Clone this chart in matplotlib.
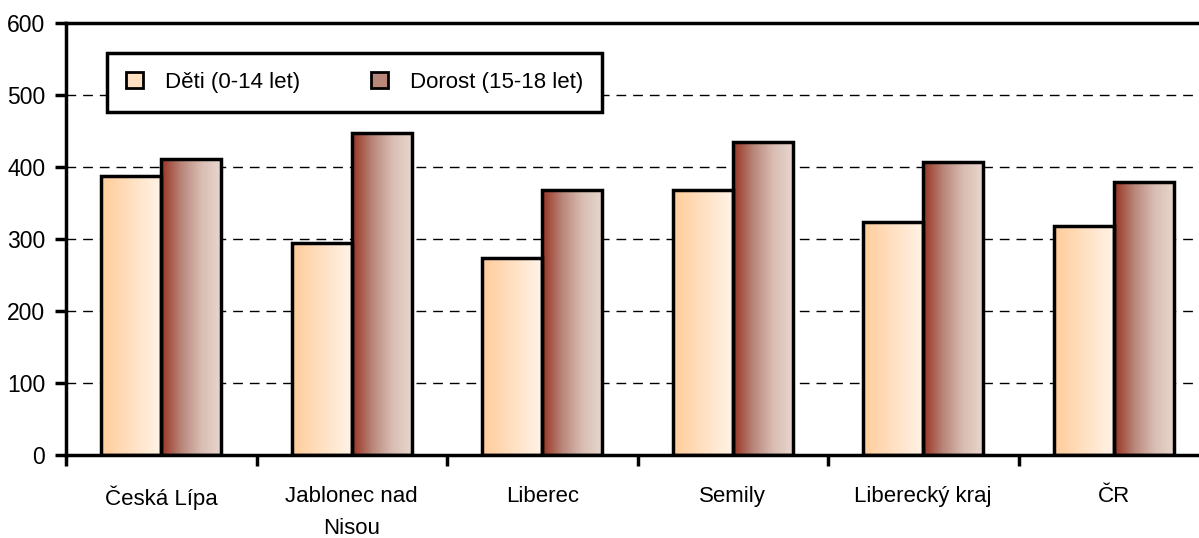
import numpy as np
import matplotlib.pyplot as plt
from matplotlib.colors import LinearSegmentedColormap
from matplotlib.patches import Patch
from matplotlib import font_manager

names = {f.name for f in font_manager.fontManager.ttflist}
fams = [n for n in ['Liberation Sans Narrow', 'DejaVu Sans Condensed', 'Liberation Sans'] if n in names]
plt.rcParams['font.family'] = fams + ['DejaVu Sans']

categories = ["Česká Lípa", "Jablonec nad\nNisou", "Liberec", "Semily", "Liberecký kraj", "ČR"]
deti = [387, 294, 274, 368, 324, 318]
dorost = [411, 447, 368, 435, 407, 379]
series_names = ["Děti (0-14 let)", "Dorost (15-18 let)"]

cmap_deti = LinearSegmentedColormap.from_list("deti", ["#ffcc99", "#ffe0c2", "#fff4e8"])
cmap_dorost = LinearSegmentedColormap.from_list("dorost", ["#993322", "#b9867a", "#d9bdb3", "#e8d8ce"])

fig = plt.figure(figsize=(11.99, 5.38), dpi=100)
ax = fig.add_axes([66 / 1199, 1 - 455 / 538, 1143 / 1199, 432 / 538])

x = np.arange(len(categories))
w = 0.315
grad = np.linspace(0, 1, 256).reshape(1, -1)

def gradient_bars(xs, vals, cmap):
    for xi, v in zip(xs, vals):
        ax.imshow(grad, cmap=cmap, extent=(xi - w / 2, xi + w / 2, 0, v),
                  aspect='auto', zorder=2, interpolation='bicubic')
        ax.bar(xi, v, width=w, facecolor='none', edgecolor='black', linewidth=2.5, zorder=3)

gradient_bars(x - w / 2, deti, cmap_deti)
gradient_bars(x + w / 2, dorost, cmap_dorost)

ax.set_xlim(-0.5, len(categories) - 0.5)
ax.set_ylim(0, 600)
ax.set_yticks(range(0, 700, 100))
ax.set_xticks(np.arange(-0.5, len(categories), 1.0))
ax.set_xticklabels([])
ax.set_xticks(x, minor=True)
ax.set_xticklabels(categories, minor=True, fontsize=16, linespacing=1.7)
ax.tick_params(axis='x', which='minor', length=0, pad=22)
ax.tick_params(axis='x', which='major', length=8, width=2.5, direction='out')
ax.tick_params(axis='y', length=8, width=2.5, labelsize=16.5, pad=7)

for yv in range(100, 600, 100):
    ax.axhline(yv, color='black', linestyle=(0, (7, 5)), linewidth=1, zorder=1)

for s in ['left', 'bottom', 'top']:
    ax.spines[s].set_linewidth(2.5)
ax.spines['right'].set_visible(False)

handles = [Patch(facecolor="#ffe0c2", edgecolor='black', linewidth=2),
           Patch(facecolor="#b9867a", edgecolor='black', linewidth=2)]
leg = ax.legend(handles, series_names, ncol=2, loc='upper left',
                bbox_to_anchor=(41 / 1143, 1 - 30 / 432), fontsize=16,
                frameon=True, fancybox=False, edgecolor='black',
                handlelength=0.75, handleheight=0.75, columnspacing=3.2,
                borderpad=0.85, handletextpad=1.0, borderaxespad=0)
leg.get_frame().set_linewidth(2.5)
leg.get_frame().set_alpha(1)

fig.savefig("out.png", dpi=100)
